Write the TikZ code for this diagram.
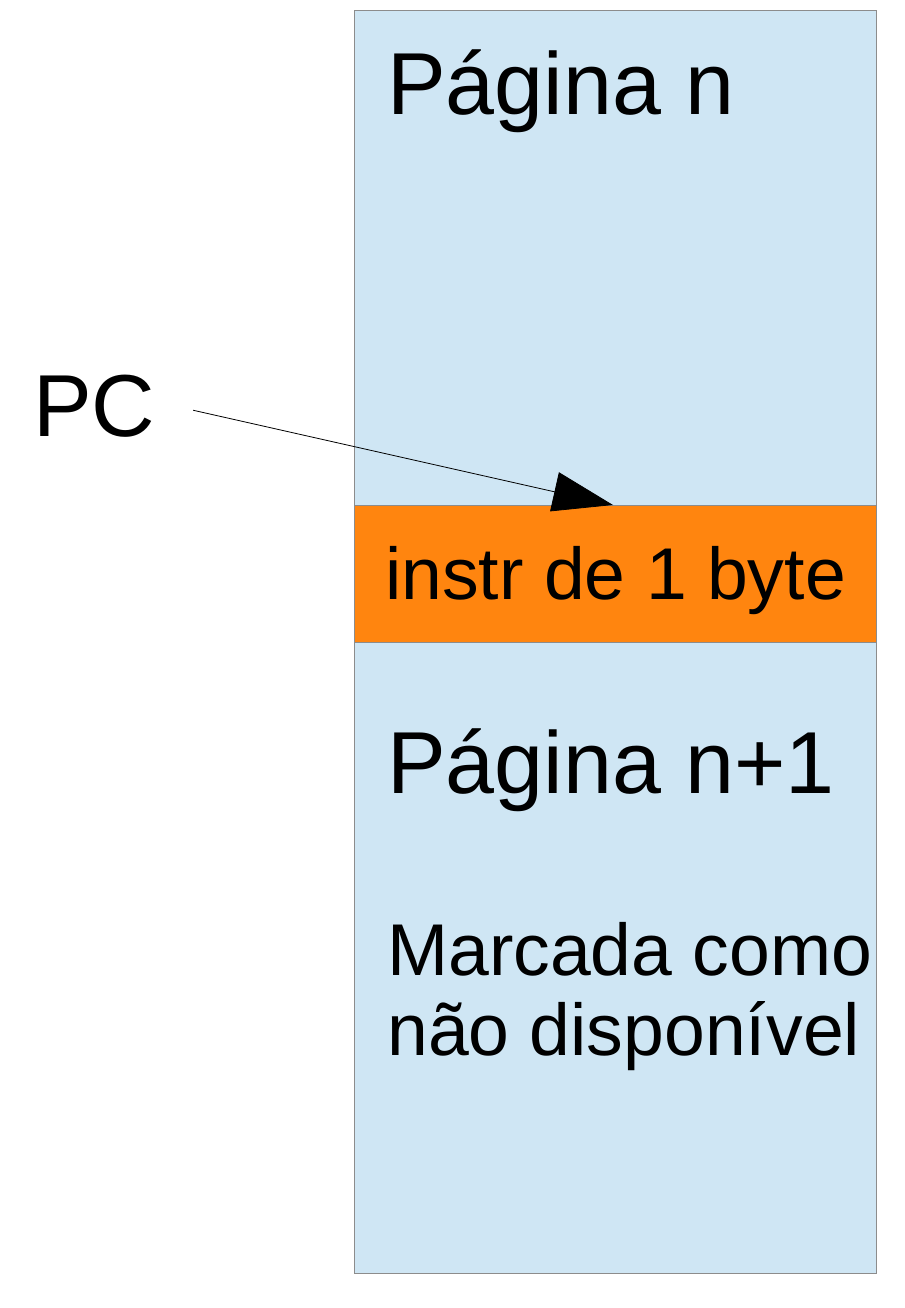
\documentclass[tikz,border=0pt]{standalone}
\usepackage{fontspec}
\setmainfont{Liberation Sans}
\usetikzlibrary{arrows.meta}
\definecolor{azulpag}{HTML}{CFE6F4}
\definecolor{laranja}{HTML}{FF850F}
\definecolor{bordo}{HTML}{8C8C8C}

\begin{document}
\begin{tikzpicture}[x=0.75pt,y=-0.75pt,
    rotulo/.style={anchor=base west, inner sep=0pt, font=\fontsize{66}{70}\selectfont},
    rotulop/.style={anchor=base west, inner sep=0pt, align=left, font=\fontsize{55}{60}\selectfont},
    faixa/.style={draw=bordo, line width=0.75pt},
    seta/.style={-{Triangle[length=45pt,width=30pt]}, line width=0.6pt}]
        \useasboundingbox (0,0) rectangle (905,1308);

        % Paginas n e n+1 (fundo azul)
        \draw[faixa, fill=azulpag] (354.5,11) rectangle (876,1273);
        % Instrucao na fronteira entre as paginas
        \draw[faixa, fill=laranja] (354.5,505) rectangle (876,642);

        % Textos dentro das paginas
        \node[rotulo] (pagn) at (387,115) {Página n};
        \node[rotulop] (instr) at (385,599) {instr de 1 byte};
        \node[rotulo] (pagn1) at (387,793) {Página n+1};
        \node[rotulop] (marcada) at (387,1055) {Marcada como\\não disponível};

        % Contador de programa
        \node[rotulo] (pc) at (33,436) {PC};
        \coordinate (alvo) at (613,505);
        \draw[seta] ([xshift=28pt,yshift=-3.4pt]pc.east) -- (alvo);
\end{tikzpicture}
\end{document}
